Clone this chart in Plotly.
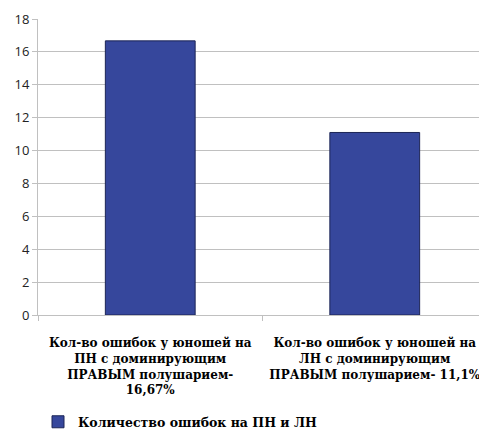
import plotly.graph_objects as go

categories = [
    "Кол-во ошибок у юношей на<br>ПН с доминирующим<br>ПРАВЫМ полушарием-<br>16,67%",
    "Кол-во ошибок у юношей на<br>ЛН с доминирующим<br>ПРАВЫМ полушарием- 11,1%",
]
values = [16.67, 11.1]
series_name = "Количество ошибок на ПН и ЛН"
y_ticks = [0, 2, 4, 6, 8, 10, 12, 14, 16, 18]

serif = "DejaVu Serif"

fig = go.Figure()
fig.add_trace(go.Bar(
    x=categories, y=values, name="<b>" + series_name + "</b>",
    marker=dict(color="#36479c", line=dict(color="#1c2556", width=1)),
    width=0.4,
))
fig.update_layout(
    width=487, height=437,
    margin=dict(l=30, r=8, t=11, b=122),
    plot_bgcolor="white", paper_bgcolor="white",
    showlegend=True,
    legend=dict(orientation="h", x=0.0, y=-0.362, xanchor="left", yanchor="middle",
                font=dict(family=serif, size=12.5, color="black")),
)
fig.update_yaxes(
    range=[0, 18], tickvals=y_ticks, showgrid=True, gridcolor="#c0c0c0", gridwidth=1,
    showline=True, linecolor="#c0c0c0", ticks="outside", tickcolor="#c0c0c0", ticklen=5,
    tickfont=dict(family="Open Sans", size=13, color="#222"), zeroline=False,
    automargin=False,
)
fig.update_xaxes(
    showline=True, linecolor="#c0c0c0", ticks="outside", tickson="boundaries",
    tickcolor="#c0c0c0", ticklen=5,
    tickvals=categories,
    ticktext=["<b>" + c + "</b>" for c in categories],
    tickfont=dict(family=serif, size=12, color="black"),
    ticklabelstandoff=17,
    tickangle=0, automargin=False,
)
fig.write_html("out.html")
